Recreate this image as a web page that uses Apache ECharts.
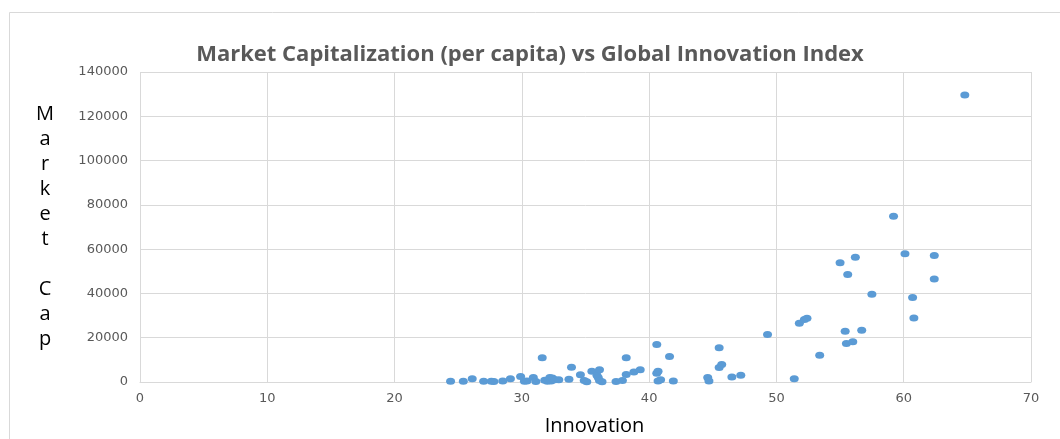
<!DOCTYPE html>
<html>
<head>
<meta charset="utf-8">
<script src="https://cdn.jsdelivr.net/npm/echarts@6/dist/echarts.min.js"></script>
<style>
html,body{margin:0;padding:0;background:#fff;}
#chart{width:1060px;height:439px;}
</style>
</head>
<body>
<div id="chart"></div>
<script>
var chartTitle = 'Market Capitalization (per capita) vs Global Innovation Index';
var xAxisTitle = 'Innovation';
var yAxisTitle = 'Market Cap';
var xTicks = [0, 10, 20, 30, 40, 50, 60, 70];
var yTicks = [0, 20000, 40000, 60000, 80000, 100000, 120000, 140000];

var innovation = [
  24.4, 25.4, 26.1, 27.0, 27.6, 27.8, 28.5, 29.1, 29.9, 30.2,
  30.4, 30.9, 31.1, 31.6, 31.8, 32.0, 32.2, 32.3, 32.4, 32.6,
  32.9, 33.7, 33.9, 34.6, 34.9, 35.1, 35.5, 35.9, 36.0, 36.1,
  36.1, 36.3, 37.4, 37.9, 38.2, 38.2, 38.8, 39.3, 40.6, 40.6,
  40.7, 40.7, 40.9, 41.6, 41.9, 44.6, 44.7, 45.5, 45.5, 45.7,
  46.5, 47.2, 49.3, 51.4, 51.8, 52.2, 52.4, 53.4, 55.4, 55.5,
  56.0, 56.7, 55.0, 56.2, 55.6, 57.5, 59.2, 60.1, 62.4, 62.4,
  60.7, 60.8, 64.8
];
var marketCap = [
  300, 300, 1500, 300, 300, 200, 500, 1500, 2500, 300,
  500, 2000, 200, 10900, 800, 300, 2000, 500, 1800, 1000,
  1000, 1200, 6700, 3300, 700, 100, 4900, 3000, 2000, 5500,
  700, 100, 200, 700, 10900, 3400, 4500, 5500, 16900, 4000,
  4900, 400, 1000, 11500, 400, 2000, 500, 15500, 6500, 7900,
  2300, 3000, 21500, 1500, 26500, 28200, 28800, 12100, 22900, 17400,
  18200, 23400, 53900, 56300, 48600, 39600, 74800, 57900, 57100, 46500,
  38200, 28900, 129600
];

var points = innovation.map(function (x, i) { return [x, marketCap[i]]; });

var chart = echarts.init(document.getElementById('chart'), null, {renderer: 'canvas'});
var gridColor = '#d9d9d9';
var labelColor = '#595959';

chart.setOption({
  backgroundColor: '#ffffff',
  animation: false,
  title: {
    text: chartTitle,
    left: 'center',
    top: 39,
    textStyle: {
      fontFamily: 'Open Sans',
      fontWeight: 'bold',
      fontSize: 22,
      color: '#595959'
    }
  },
  graphic: [{
    type: 'rect',
    shape: {x: 9.5, y: 12.5, width: 1100, height: 500},
    style: {fill: 'none', stroke: gridColor, lineWidth: 1},
    silent: true,
    z: -1
  }],
  grid: {left: 140, right: 29, top: 72, bottom: 57, containLabel: false, outerBoundsMode: 'none'},
  xAxis: {
    type: 'value',
    min: xTicks[0],
    max: xTicks[xTicks.length - 1],
    interval: 10,
    name: xAxisTitle,
    nameLocation: 'middle',
    nameGap: 34,
    nameTextStyle: {fontFamily: 'Open Sans', fontSize: 20, color: '#000000', padding: [0, 0, 0, 18]},
    axisLine: {show: true, lineStyle: {color: gridColor, width: 1}},
    axisTick: {show: false},
    axisLabel: {fontFamily: 'DejaVu Sans', fontSize: 13, color: labelColor, margin: 10},
    splitLine: {show: true, lineStyle: {color: gridColor, width: 1}}
  },
  yAxis: {
    type: 'value',
    min: yTicks[0],
    max: yTicks[yTicks.length - 1],
    interval: 20000,
    name: yAxisTitle.split('').join('\n').replace('\n \n', '\n\n'),
    nameLocation: 'middle',
    nameRotate: 0,
    nameGap: 95,
    nameTextStyle: {fontFamily: 'Open Sans', fontSize: 20, color: '#000000', align: 'center', lineHeight: 25, padding: [18, 0, 0, 0]},
    axisLine: {show: false},
    axisTick: {show: false},
    axisLabel: {
      fontFamily: 'DejaVu Sans', fontSize: 13, color: labelColor, margin: 12,
      formatter: function (v) { return String(v); }
    },
    splitLine: {show: true, lineStyle: {color: gridColor, width: 1}}
  },
  series: [{
    type: 'scatter',
    data: points,
    symbol: 'circle',
    symbolSize: [9, 7],
    itemStyle: {color: '#5b9bd5', opacity: 1}
  }]
});
</script>
</body>
</html>
